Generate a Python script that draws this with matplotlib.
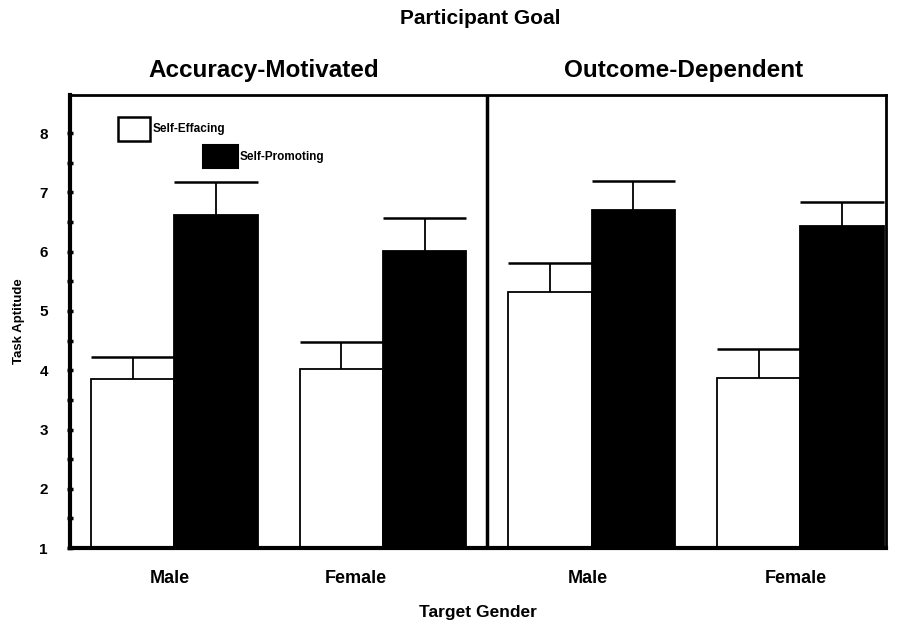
import matplotlib.pyplot as plt
from matplotlib.patches import Rectangle
import numpy as np

plt.rcParams['font.family'] = ['Liberation Sans', 'DejaVu Sans']
plt.rcParams['font.weight'] = 'bold'

goals = ['Accuracy-Motivated', 'Outcome-Dependent']
genders = ['Male', 'Female', 'Male', 'Female']
effacing = [3.85, 4.02, 5.32, 3.87]
effacing_err = [0.37, 0.45, 0.49, 0.49]
promoting = [6.62, 6.01, 6.70, 6.43]
promoting_err = [0.55, 0.55, 0.49, 0.40]

x = np.arange(len(genders))
w = 0.4
label_pos = x + np.array([-0.02, -0.13, -0.02, -0.02])

fig = plt.figure(figsize=(9.03, 6.3), dpi=100)
ax = fig.add_axes([0.0775, 0.130, 0.9035, 0.719])

for vals, errs, color, off in [(effacing, effacing_err, 'white', -w / 2),
                               (promoting, promoting_err, 'black', w / 2)]:
    xs = x + off
    ax.bar(xs, np.array(vals) - 1, w, bottom=1, color=color,
           edgecolor='black', linewidth=1.3, zorder=2)
    tops = np.array(vals) + np.array(errs)
    ax.vlines(xs, vals, tops, color='black', linewidth=1.3, zorder=1)
    ax.hlines(tops, xs - w / 2, xs + w / 2, color='black', linewidth=1.8, zorder=1)

# panel divider
ax.axvline(1.5, color='black', linewidth=2.5)

ax.set_xlim(-0.5, 3.41)
ax.set_ylim(1, 8.64)
ax.set_yticks(range(1, 9))
ax.set_yticks(np.arange(1.5, 8.0, 1.0), minor=True)
ax.tick_params(axis='y', direction='inout', length=4, width=2.5, labelsize=11, pad=14)
ax.tick_params(axis='y', which='minor', direction='inout', length=4, width=2.5)
ax.set_xticks(label_pos)
ax.set_xticklabels(genders, fontsize=13, fontweight='bold')
ax.tick_params(axis='x', length=0, pad=16)

ax.spines['left'].set_linewidth(3)
ax.spines['bottom'].set_linewidth(3)
ax.spines['top'].set_linewidth(2)
ax.spines['right'].set_linewidth(2)

ax.set_ylabel('Task Aptitude', fontsize=9.5, fontweight='bold', labelpad=10)
ax.set_xlabel('Target Gender', fontsize=12.5, fontweight='bold', labelpad=13)

fig.text(0.532, 0.970, 'Participant Goal', ha='center', va='center',
         fontsize=15, fontweight='bold')
for cx, goal in zip([0.292, 0.757], goals):
    fig.text(cx, 0.888, goal, ha='center', va='center', fontsize=17.5, fontweight='bold')

# legend boxes, staggered
ax.add_patch(Rectangle((0.059, 0.898), 0.039, 0.054, transform=ax.transAxes,
                       facecolor='white', edgecolor='black', linewidth=1.8, zorder=3))
ax.text(0.101, 0.925, 'Self-Effacing', transform=ax.transAxes, va='center',
        fontsize=8.5, fontweight='bold')
ax.add_patch(Rectangle((0.163, 0.840), 0.043, 0.049, transform=ax.transAxes,
                       facecolor='black', edgecolor='black', linewidth=1.5, zorder=3))
ax.text(0.208, 0.864, 'Self-Promoting', transform=ax.transAxes, va='center',
        fontsize=8.5, fontweight='bold')

plt.savefig('out.png', dpi=100)
